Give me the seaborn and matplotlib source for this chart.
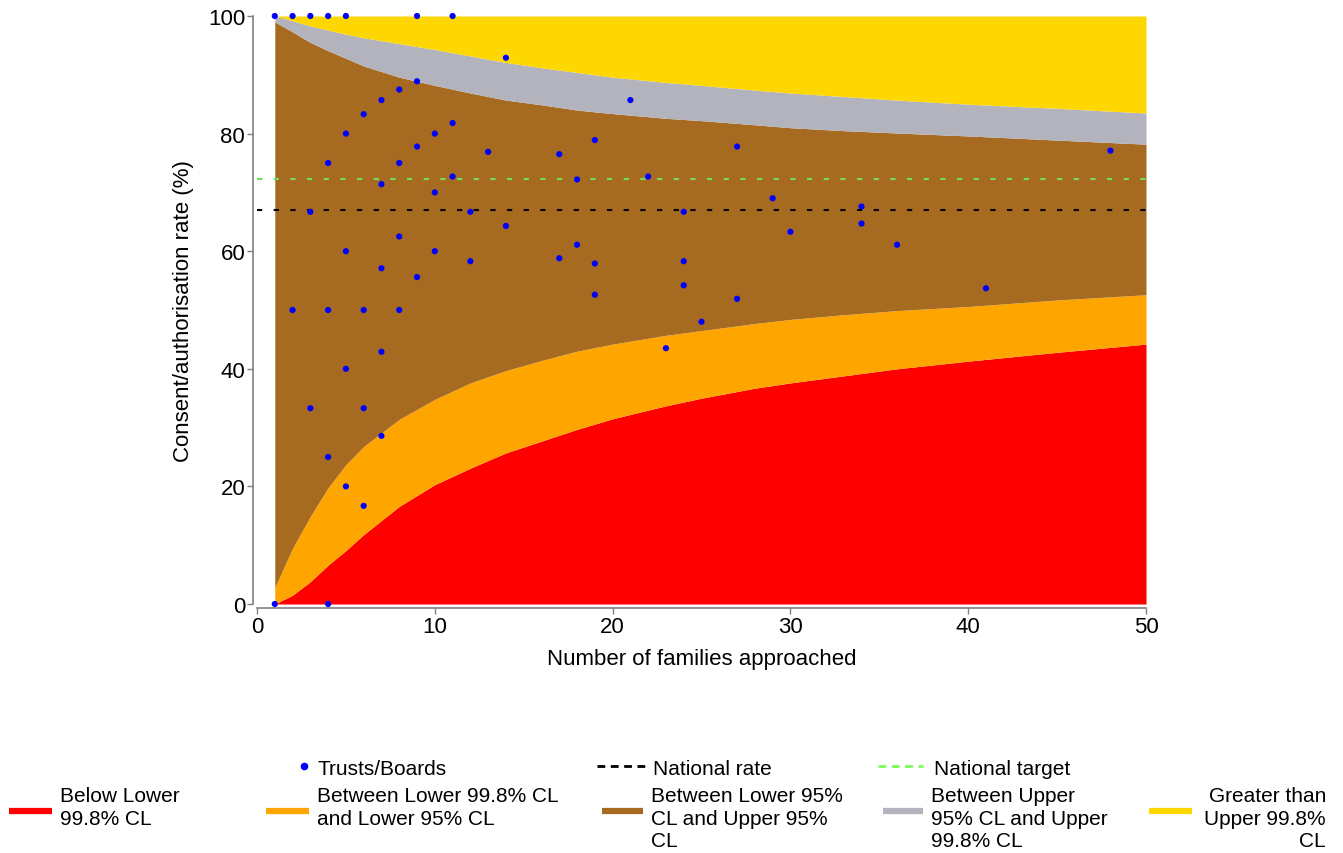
import matplotlib.pyplot as plt
import seaborn as sns
import pandas as pd
from matplotlib.lines import Line2D

# === Data ===
# Trusts/Boards: families approached and consent rate (%)
families = [1, 2, 3, 4, 5, 9, 11,
            14, 21, 9, 8, 7, 6, 5, 10, 11, 9, 13, 8, 4, 17, 19, 27, 48,
            11, 18, 22, 7, 10, 29, 3, 12, 24, 34, 34, 14, 30, 8, 18, 36,
            5, 10, 17, 12, 19, 24, 7, 9, 24, 19, 27, 41, 2, 4, 6, 8,
            25, 23, 7, 5, 3, 6, 7, 4, 5, 6, 1, 4]
rate = [100, 100, 100, 100, 100, 100, 100,
        92.9, 85.7, 88.9, 87.5, 85.7, 83.3, 80, 80, 81.8, 77.8, 76.9, 75, 75, 76.5, 78.9, 77.8, 77.1,
        72.7, 72.2, 72.7, 71.4, 70, 69.0, 66.7, 66.7, 66.7, 67.6, 64.7, 64.3, 63.3, 62.5, 61.1, 61.1,
        60, 60, 58.8, 58.3, 57.9, 58.3, 57.1, 55.6, 54.2, 52.6, 51.9, 53.7, 50, 50, 50, 50,
        48, 43.5, 42.9, 40, 33.3, 33.3, 28.6, 25, 20, 16.7, 0, 0]

national_rate = 67
national_target = 72.2

# Control limits (%), read at these numbers of families
n_grid = [1, 2, 3, 4, 5, 6, 8, 10, 12, 14, 16, 18, 20, 23, 25, 28, 30, 33, 36, 40, 45, 50]
upper_998 = [100, 99.2, 98.3, 97.6, 96.9, 96.3, 95.3, 94.3, 93.2, 92.1, 91.2, 90.4, 89.6,
             88.7, 88.2, 87.4, 86.9, 86.3, 85.7, 85.0, 84.3, 83.5]
upper_95 = [99.0, 97.3, 95.5, 94.1, 92.8, 91.5, 89.6, 88.2, 86.9, 85.7, 84.9, 84.0, 83.4,
            82.6, 82.2, 81.5, 81.0, 80.5, 80.1, 79.6, 78.9, 78.2]
lower_95 = [2.8, 9.5, 14.9, 19.8, 23.7, 26.8, 31.4, 34.8, 37.6, 39.7, 41.4, 43.0, 44.2,
            45.7, 46.5, 47.7, 48.4, 49.2, 49.9, 50.6, 51.7, 52.6]
lower_998 = [0, 1.5, 3.8, 6.6, 9.1, 11.8, 16.6, 20.3, 23.1, 25.7, 27.7, 29.7, 31.5,
             33.7, 35.0, 36.7, 37.6, 38.8, 40.0, 41.3, 42.8, 44.2]

band_labels = ["Below Lower\n99.8% CL",
               "Between Lower 99.8% CL\nand Lower 95% CL",
               "Between Lower 95%\nCL and Upper 95%\nCL",
               "Between Upper\n95% CL and Upper\n99.8% CL",
               "Greater than\nUpper 99.8%\nCL"]
band_colors = ["#ff0000", "#ffa500", "#a66a21", "#b3b3be", "#ffd700"]

df = pd.DataFrame({"families": families, "rate": rate})

# === Figure ===
sns.set_theme(style="white")
plt.rcParams["font.family"] = ["Liberation Sans", "DejaVu Sans"]
plt.rcParams["text.color"] = "black"
plt.rcParams["axes.labelcolor"] = "black"

W, H = 1343, 854
fig = plt.figure(figsize=(W / 100, H / 100), dpi=100)
ax = fig.add_axes([257 / W, 1 - 605 / H, (1146 - 257) / W, 588 / H])

# funnel bands, bottom to top
bounds = [[0] * len(n_grid), lower_998, lower_95, upper_95, upper_998, [100] * len(n_grid)]
for i, col in enumerate(band_colors):
    ax.fill_between(n_grid, bounds[i], bounds[i + 1], color=col, lw=0, zorder=1)

ax.axhline(national_target, color="#6fe05c", lw=1.5, ls=(0, (2.5, 5.5)), zorder=2)
ax.axhline(national_rate, color="black", lw=1.5, ls=(0, (2.5, 5.5)), zorder=2)

sns.scatterplot(data=df, x="families", y="rate", color="#0000ff", s=20,
                edgecolor="none", ax=ax, zorder=3, clip_on=False)

ax.set_xlim(0, 50)
ax.set_ylim(0, 100)
ax.set_xticks([0, 10, 20, 30, 40, 50])
ax.set_yticks([0, 20, 40, 60, 80, 100])
ax.set_xlabel("Number of families approached", fontsize=16, labelpad=8)
ax.set_ylabel("Consent/authorisation rate (%)", fontsize=16, labelpad=10)
ax.tick_params(axis="both", labelsize=16, length=4.5, width=1, color="#808080",
               labelcolor="black", pad=1, direction="out", bottom=True, left=True)
sns.despine(ax=ax, offset=3)
for side in ["left", "bottom"]:
    ax.spines[side].set_color("#808080")
    ax.spines[side].set_linewidth(1.2)


# === Legend (drawn in figure pixels) ===
def fx(x):
    return x / W


def fy(y):
    return 1 - y / H


leg_fs = 15
# row 1
fig.add_artist(Line2D([fx(304)], [fy(767)], marker="o", color="#0000ff", ms=4.5, lw=0))
fig.text(fx(317), fy(775), "Trusts/Boards", fontsize=leg_fs, va="baseline")
fig.add_artist(Line2D([fx(597), fx(645)], [fy(767), fy(767)], color="black", lw=2,
                      ls=(0, (2.8, 2.0))))
fig.text(fx(653), fy(775), "National rate", fontsize=leg_fs, va="baseline")
fig.add_artist(Line2D([fx(878), fx(923)], [fy(767), fy(767)], color="#7cfc5a", lw=2,
                      ls=(0, (2.8, 2.0))))
fig.text(fx(934), fy(775), "National target", fontsize=leg_fs, va="baseline")

# row 2: funnel bands
handle_x = [(9, 52), (266, 309), (602, 643), (883, 923), (1149, 1192)]
for (x0, x1), lab, col in zip(handle_x, band_labels, band_colors):
    fig.add_artist(Line2D([fx(x0), fx(x1)], [fy(812), fy(812)], color=col, lw=4.5,
                          solid_capstyle="butt"))
    if lab.startswith("Greater"):
        fig.text(fx(1326), fy(787), lab, fontsize=leg_fs, va="top", ha="right",
                 multialignment="right", linespacing=1.24)
    else:
        fig.text(fx(x1 + 8), fy(787), lab, fontsize=leg_fs, va="top", linespacing=1.24)

fig.savefig("out.png", dpi=100)
